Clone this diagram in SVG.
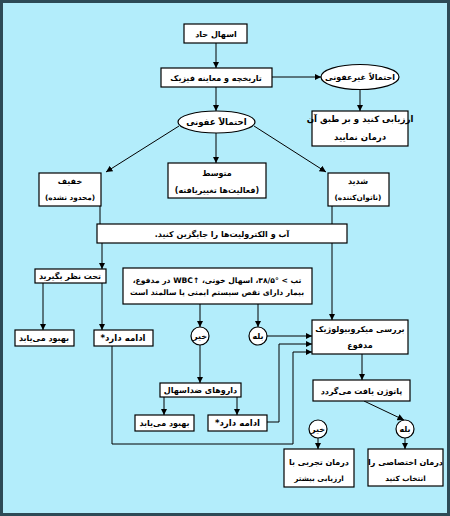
<svg xmlns="http://www.w3.org/2000/svg" width="450" height="516" viewBox="0 0 450 516">
<defs>
<marker id="ah" viewBox="0 0 10 10" refX="10" refY="5" markerWidth="6.5" markerHeight="6.5" orient="auto" markerUnits="userSpaceOnUse"><path d="M0,0 L10,5 L0,10 z" fill="#000"/></marker>
<style>
.bg{fill:#b3edfb;stroke:#2d4a56;stroke-width:3}
.box{fill:#fff;stroke:#000;stroke-width:1.2}
.t{font-family:"DejaVu Sans",sans-serif;font-size:8px;font-weight:bold;fill:#000;text-anchor:middle;direction:rtl;unicode-bidi:embed}
.tm{font-size:8.6px}
.ts{font-size:7.3px}
.tw{font-size:7.6px}
.c{fill:none;stroke:#000;stroke-width:1}
.a{marker-end:url(#ah)}
</style>
</defs>
<rect class="bg" x="1.5" y="1.5" width="447" height="513"/>

<g id="connectors">
<path class="c a" d="M216,43 V68"/>
<path class="c a" d="M272,77 H321"/>
<path class="c a" d="M360,89.5 V111"/>
<path class="c a" d="M216,87 V111"/>
<path class="c a" d="M179,126 L106,172"/>
<path class="c a" d="M254,126 L326,172"/>
<path class="c a" d="M216,133 V163"/>
<path class="c" d="M100,206 V224"/>
<path class="c" d="M332,206 V224"/>
<path class="c a" d="M102,243 V269"/>
<path class="c a" d="M43,283 V330"/>
<path class="c a" d="M102,283 V330"/>
<path class="c a" d="M112,346 V444 H293 V352 H312"/>
<path class="c a" d="M332,243 V320"/>
<path class="c a" d="M200,304 V327"/>
<path class="c a" d="M258,304 V327"/>
<path class="c a" d="M267,336 H312"/>
<path class="c a" d="M200,345 V383"/>
<path class="c a" d="M164,397 V415"/>
<path class="c a" d="M237,397 V415"/>
<path class="c a" d="M267,422 H279 V344 H312"/>
<path class="c a" d="M362,354 V380"/>
<path class="c a" d="M364,401 L404,420"/>
<path class="c a" d="M318,438 V449"/>
<path class="c a" d="M405,438 V449"/>
</g>

<g id="n-acute"><rect class="box" x="184" y="24" width="63" height="19"/><text class="t" x="216" y="37">اسهال حاد</text></g>
<g id="n-history"><rect class="box" x="161" y="68" width="111" height="19"/><text class="t" x="216" y="81">تاریخچه و معاینه فیزیک</text></g>
<g id="n-noninf"><ellipse class="box" cx="360" cy="77" rx="39" ry="12.5"/><text class="t" x="360" y="80">احتمالاً غیرعفونی</text></g>
<g id="n-eval"><rect class="box" x="312" y="111" width="96" height="35"/><text class="t tm" x="360" y="122">ارزیابی کنید و بر طبق آن</text><text class="t tm" x="360" y="140">درمان نمایید</text></g>
<g id="n-inf"><ellipse class="box" cx="216.5" cy="122" rx="38.5" ry="11"/><text class="t tm" x="216.5" y="125">احتمالاً عفونی</text></g>
<g id="n-mild"><rect class="box" x="39" y="173" width="62" height="33"/><text class="t" x="70" y="184">خفیف</text><text class="t ts" x="70" y="200">(محدود نشده)</text></g>
<g id="n-moderate"><rect class="box" x="168" y="163" width="98" height="35"/><text class="t" x="217" y="176">متوسط</text><text class="t" x="217" y="193">(فعالیت‌ها تغییریافته)</text></g>
<g id="n-severe"><rect class="box" x="328" y="173" width="61" height="33"/><text class="t" x="358" y="184">شدید</text><text class="t ts" x="358" y="200">(ناتوان‌کننده)</text></g>
<g id="n-fluids"><rect class="box" x="97" y="224" width="250" height="19"/><text class="t" x="222" y="237">آب و الکترولیت‌ها را جایگزین کنید.</text></g>
<g id="n-observe"><rect class="box" x="35" y="269" width="71" height="14"/><text class="t" x="70" y="279">تحت نظر بگیرید</text></g>
<g id="n-improve1"><rect class="box" x="15" y="330" width="59" height="16"/><text class="t" x="44" y="341">بهبود می‌یابد</text></g>
<g id="n-persist1"><rect class="box" x="94" y="330" width="59" height="16"/><text class="t tm" x="123" y="341">ادامه دارد*</text></g>
<g id="n-criteria"><rect class="box" x="123" y="268" width="189" height="36"/><text class="t tw" x="217" y="283">تب &gt; °۳۸/۵، اسهال خونی، ↑WBC در مدفوع،</text><text class="t tw" x="217" y="295">بیمار دارای نقص سیستم ایمنی یا سالمند است</text></g>
<g id="n-no1"><circle class="box" cx="200" cy="336" r="9"/><text class="t" x="200" y="339">خیر</text></g>
<g id="n-yes1"><circle class="box" cx="258" cy="336" r="9"/><text class="t" x="258" y="339">بله</text></g>
<g id="n-antidiarrheal"><rect class="box" x="160" y="383" width="81" height="14"/><text class="t" x="200.5" y="393">داروهای ضداسهال</text></g>
<g id="n-improve2"><rect class="box" x="135" y="415" width="59" height="16"/><text class="t" x="164.5" y="426">بهبود می‌یابد</text></g>
<g id="n-persist2"><rect class="box" x="208" y="415" width="59" height="16"/><text class="t tm" x="237.5" y="426">ادامه دارد*</text></g>
<g id="n-micro"><rect class="box" x="312" y="320" width="96" height="34"/><text class="t" x="360" y="332">بررسی میکروبیولوژیک</text><text class="t" x="360" y="348">مدفوع</text></g>
<g id="n-pathogen"><rect class="box" x="313" y="380" width="97" height="21"/><text class="t" x="361.5" y="394">پاتوژن یافت می‌گردد</text></g>
<g id="n-no2"><circle class="box" cx="318" cy="429" r="9"/><text class="t" x="318" y="432">خیر</text></g>
<g id="n-yes2"><circle class="box" cx="405" cy="429" r="9"/><text class="t" x="405" y="432">بله</text></g>
<g id="n-empiric"><rect class="box" x="284" y="449" width="70" height="38"/><text class="t" x="319" y="465">درمان تجربی با</text><text class="t ts" x="319" y="481">ارزیابی بیشتر</text></g>
<g id="n-specific"><rect class="box" x="368" y="449" width="75" height="37"/><text class="t" x="405.5" y="465">درمان اختصاصی را</text><text class="t ts" x="405.5" y="481">انتخاب کنید</text></g>
</svg>
